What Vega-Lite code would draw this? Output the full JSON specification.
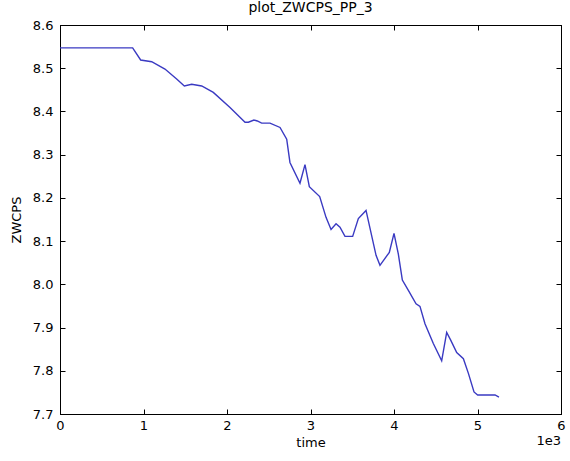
{
  "$schema": "https://vega.github.io/schema/vega-lite/v6.json",
  "autosize": {"type": "none"},
  "padding": {"left": 60, "top": 25, "right": 9, "bottom": 47},
  "width": 501,
  "height": 389,
  "background": "white",
  "title": {"text": "plot_ZWCPS_PP_3", "font": "DejaVu Sans", "fontSize": 14, "fontWeight": "normal", "color": "#000", "offset": 4},
  "config": {
    "view": {"stroke": "#000", "strokeWidth": 1},
    "axis": {"labelFont": "DejaVu Sans", "titleFont": "DejaVu Sans", "labelFontSize": 13, "titleFontSize": 13, "titleFontWeight": "normal", "labelColor": "#000", "titleColor": "#000", "domainColor": "#000", "tickColor": "#000", "grid": false, "tickSize": -5, "labelPadding": 12, "labelFlush": false, "labelOverlap": false}
  },
  "data": {"values": [
    {"time": 0, "ZWCPS": 8.547},
    {"time": 870, "ZWCPS": 8.547},
    {"time": 966, "ZWCPS": 8.519},
    {"time": 1098, "ZWCPS": 8.515},
    {"time": 1257, "ZWCPS": 8.498},
    {"time": 1397, "ZWCPS": 8.475},
    {"time": 1489, "ZWCPS": 8.459},
    {"time": 1577, "ZWCPS": 8.463},
    {"time": 1697, "ZWCPS": 8.459},
    {"time": 1836, "ZWCPS": 8.444},
    {"time": 2036, "ZWCPS": 8.409},
    {"time": 2216, "ZWCPS": 8.375},
    {"time": 2256, "ZWCPS": 8.375},
    {"time": 2323, "ZWCPS": 8.380},
    {"time": 2363, "ZWCPS": 8.378},
    {"time": 2415, "ZWCPS": 8.373},
    {"time": 2515, "ZWCPS": 8.373},
    {"time": 2635, "ZWCPS": 8.363},
    {"time": 2715, "ZWCPS": 8.336},
    {"time": 2754, "ZWCPS": 8.282},
    {"time": 2874, "ZWCPS": 8.234},
    {"time": 2934, "ZWCPS": 8.277},
    {"time": 2986, "ZWCPS": 8.226},
    {"time": 3110, "ZWCPS": 8.203},
    {"time": 3186, "ZWCPS": 8.155},
    {"time": 3246, "ZWCPS": 8.127},
    {"time": 3306, "ZWCPS": 8.140},
    {"time": 3353, "ZWCPS": 8.132},
    {"time": 3413, "ZWCPS": 8.111},
    {"time": 3505, "ZWCPS": 8.111},
    {"time": 3573, "ZWCPS": 8.152},
    {"time": 3665, "ZWCPS": 8.171},
    {"time": 3785, "ZWCPS": 8.067},
    {"time": 3832, "ZWCPS": 8.044},
    {"time": 3944, "ZWCPS": 8.074},
    {"time": 4000, "ZWCPS": 8.118},
    {"time": 4052, "ZWCPS": 8.070},
    {"time": 4100, "ZWCPS": 8.010},
    {"time": 4172, "ZWCPS": 7.986},
    {"time": 4264, "ZWCPS": 7.955},
    {"time": 4311, "ZWCPS": 7.949},
    {"time": 4371, "ZWCPS": 7.909},
    {"time": 4471, "ZWCPS": 7.863},
    {"time": 4571, "ZWCPS": 7.823},
    {"time": 4631, "ZWCPS": 7.889},
    {"time": 4679, "ZWCPS": 7.871},
    {"time": 4751, "ZWCPS": 7.842},
    {"time": 4831, "ZWCPS": 7.828},
    {"time": 4891, "ZWCPS": 7.794},
    {"time": 4958, "ZWCPS": 7.751},
    {"time": 5002, "ZWCPS": 7.744},
    {"time": 5210, "ZWCPS": 7.744},
    {"time": 5257, "ZWCPS": 7.739}
  ]},
  "resolve": {"axis": {"x": "independent", "y": "independent"}},
  "layer": [
    {
      "mark": {"type": "line", "color": "#3a3ac2", "strokeWidth": 1.4},
      "encoding": {
        "x": {"field": "time", "type": "quantitative", "scale": {"domain": [0, 6000], "nice": false}, "axis": {"title": "time", "values": [0, 1000, 2000, 3000, 4000, 5000, 6000], "labelExpr": "format(datum.value / 1000, 'd')", "labelPadding": 10, "titlePadding": 4}},
        "y": {"field": "ZWCPS", "type": "quantitative", "scale": {"domain": [7.7, 8.6], "nice": false, "zero": false}, "axis": {"title": "ZWCPS", "values": [7.7, 7.8, 7.9, 8.0, 8.1, 8.2, 8.3, 8.4, 8.5, 8.6], "format": ".1f", "labelPadding": 12, "titlePadding": 9}}
      }
    },
    {
      "data": {"values": [{"label": "1e3"}]},
      "mark": {"type": "text", "font": "DejaVu Sans", "fontSize": 13, "align": "right", "baseline": "middle", "dy": 27, "color": "#000"},
      "encoding": {
        "x": {"datum": 6000, "type": "quantitative", "axis": {"orient": "top", "title": null, "labels": false, "values": [0, 1000, 2000, 3000, 4000, 5000, 6000]}},
        "y": {"datum": 7.7, "type": "quantitative", "axis": {"orient": "right", "title": null, "labels": false, "values": [7.7, 7.8, 7.9, 8.0, 8.1, 8.2, 8.3, 8.4, 8.5, 8.6]}},
        "text": {"field": "label"}
      }
    }
  ]
}
